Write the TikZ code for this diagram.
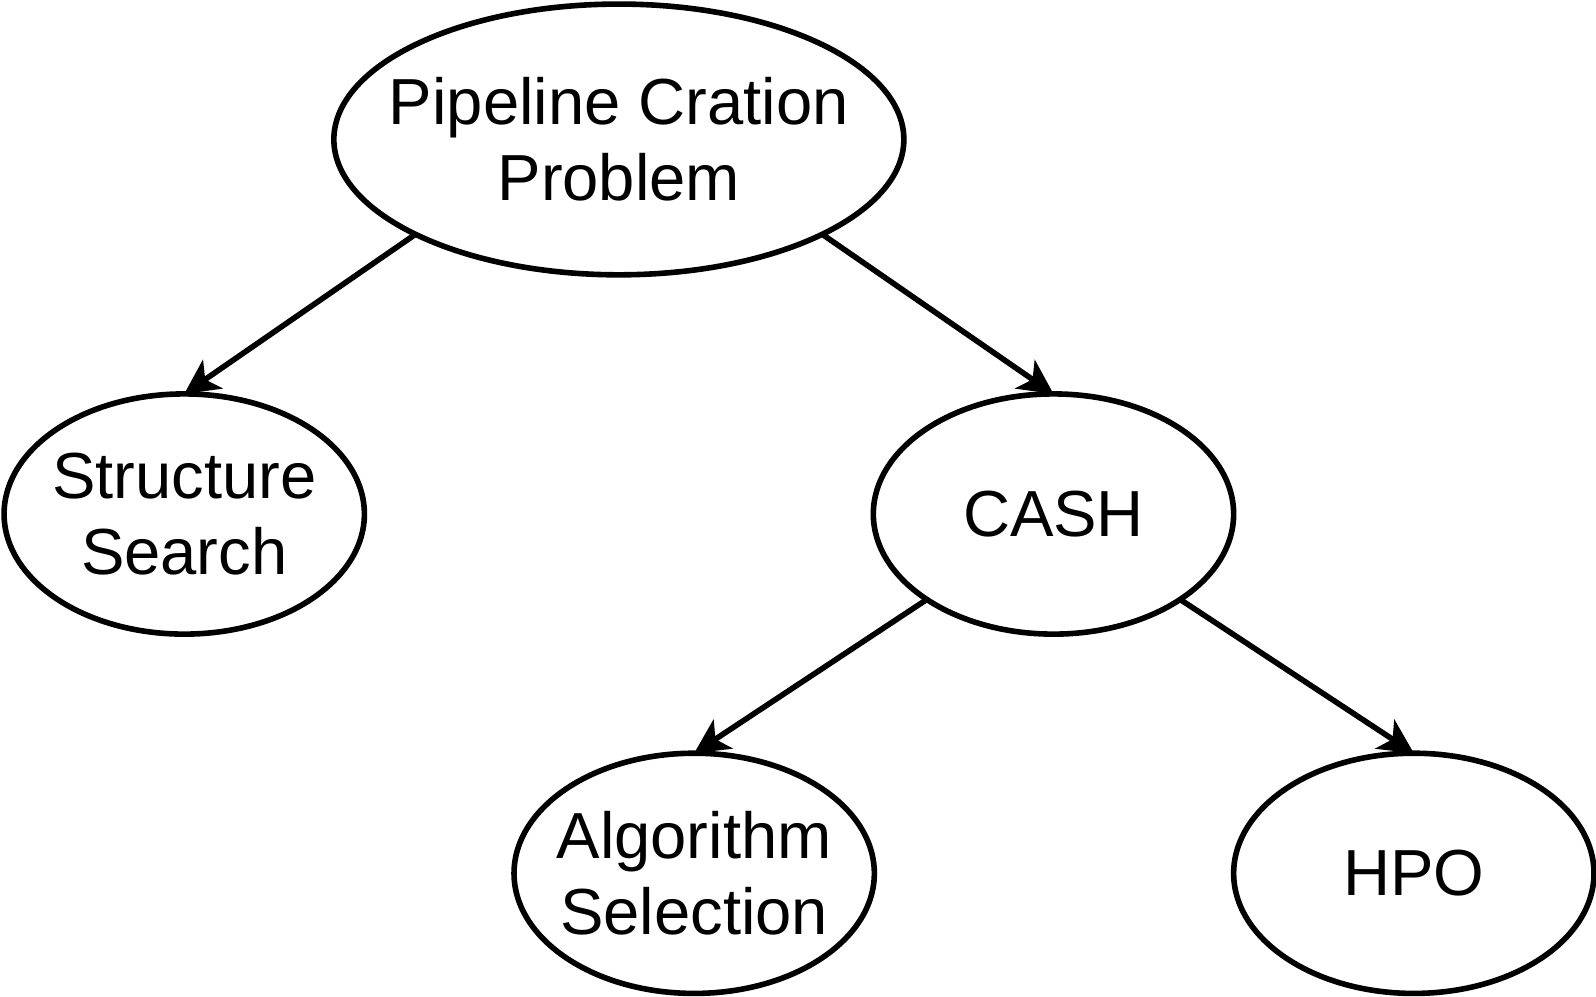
\documentclass[tikz,border=0pt]{standalone}
\usepackage{fontspec}
\setmainfont{Liberation Sans}
\usepackage{tikz}
\usetikzlibrary{arrows.meta, positioning, shapes.geometric}

\begin{document}
\begin{tikzpicture}[x=0.5pt, y=-0.5pt, >={Stealth[length=17pt,width=17pt,inset=4.5pt]}]
		\tikzset{
			oval/.style= {draw, ellipse, line width=2.75pt, align=center, inner ysep=0pt, inner xsep=-10pt, outer sep=0pt,
			font=\fontsize{32}{37.5}\selectfont, minimum width=177pt, minimum height=118pt},
			bigoval/.style={oval, inner xsep=-15pt, minimum width=280pt, minimum height=133pt},
		}
		\useasboundingbox (0,0) rectangle (1568,979);

		%nodes
		\node (pcp) [bigoval] at (608,137) {Pipeline Cration\\ Problem};
		\node (ss) [oval] at (181,505) {Structure\\ Search};
		\node (cash) [oval] at (1035,505) {CASH};
		\node (as) [oval] at (682,858) {Algorithm\\ Selection};
		\node (hpo) [oval] at (1389,858) {HPO};

		%arrows
		\path[->,line width=2.75pt]
					(pcp.205.6) edge (ss.north)
					(pcp.-25.4) edge (cash.north)
					(cash.214.8) edge (as.north)
					(cash.-34.2) edge (hpo.north);

	\end{tikzpicture}
\end{document}
